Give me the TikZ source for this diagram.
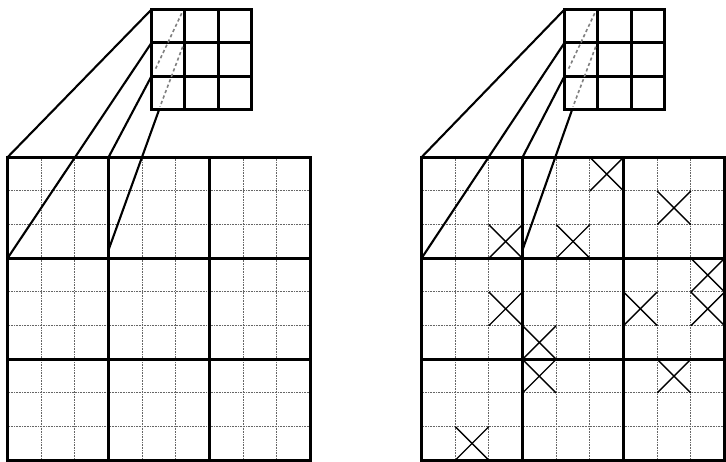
\documentclass[tikz,border=0pt]{standalone}
\begin{document}
\begin{tikzpicture}[x=1pt,y=-1pt,
  dotl/.style={black!60, line width=1pt, dash pattern=on 0.9pt off 0.7pt},
  thickl/.style={line width=3.2pt},
  border/.style={line width=2.9pt},
  kern/.style={line width=2.7pt},
  proj/.style={line width=2.1pt},
  hid/.style={black!50,line width=1.6pt,dash pattern=on 3.2pt off 2.6pt},
  cross/.style={line width=1.4pt}]
\useasboundingbox (0,0) rectangle (726,462);
\def\c{33.67}
\def\k{33.33}
\foreach \gx/\kx/\nm in {7.5/151.5/L, 421.5/564.5/R} {
  % big grid
  \begin{scope}[shift={(\gx,157.3)}]
    \foreach \i in {1,2,4,5,7,8} {
      \draw[dotl] (\i*\c,0) -- (\i*\c,9*\c);
      \draw[dotl] (0,\i*\c) -- (9*\c,\i*\c);
    }
  \end{scope}
  % kernel
  \begin{scope}[shift={(\kx,9.5)}]
    \foreach \i in {1,2} {
      \draw[kern] (\i*\k,0) -- (\i*\k,3*\k);
      \draw[kern] (0,\i*\k) -- (3*\k,\i*\k);
    }
    \draw[kern] (0,0) rectangle (3*\k,3*\k);
    \draw[hid] (30.2,3.8) -- (3.5,60.5);
    \draw[hid] (31.2,37.2) -- (8.5,97.2);
  \end{scope}
  % named anchor points
  \coordinate (k0\nm) at (\kx,9.5);
  \coordinate (k1\nm) at (\kx,9.5+\k);
  \coordinate (k2\nm) at (\kx,9.5+2*\k);
  \coordinate (k3\nm) at (\kx+7.5,9.5+3*\k+0.5);
  \coordinate (g0\nm) at (\gx,157.3);
  \coordinate (g1\nm) at (\gx,157.3+3*\c);
  \coordinate (g2\nm) at (\gx+3*\c,157.3);
  \coordinate (g3\nm) at (\gx+3*\c,250);
}
% crosses on the right grid
\begin{scope}[shift={(421.5,157.3)}]
  \foreach \cx/\cy in {5/0,7/1,2/2,4/2,8/3,2/4,6/4,8/4,3/5,3/6,7/6,1/8} {
    \draw[cross] (\cx*\c,\cy*\c) -- (\cx*\c+\c,\cy*\c+\c);
    \draw[cross] (\cx*\c+\c,\cy*\c) -- (\cx*\c,\cy*\c+\c);
  }
\end{scope}
% block lines and borders
\foreach \gx in {7.5,421.5} {
  \begin{scope}[shift={(\gx,157.3)}]
    \foreach \i in {3,6} {
      \draw[thickl] (\i*\c,0) -- (\i*\c,9*\c);
      \draw[thickl] (0,\i*\c) -- (9*\c,\i*\c);
    }
    \draw[border] (0,0) rectangle (9*\c,9*\c);
  \end{scope}
}
% projection lines
\foreach \nm in {L,R} {
  \draw[proj] (k0\nm) -- (g0\nm);
  \draw[proj] (k1\nm) -- (g1\nm);
  \draw[proj] (k2\nm) -- (g2\nm);
  \draw[proj] (k3\nm) -- (g3\nm);
}
\end{tikzpicture}
\end{document}
